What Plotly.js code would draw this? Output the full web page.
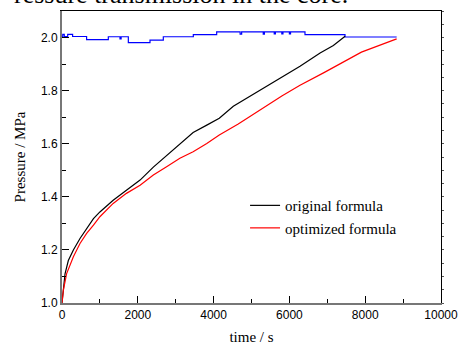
<!DOCTYPE html>
<html>
<head>
<meta charset="utf-8">
<script src="https://cdn.plot.ly/plotly-3.0.1.min.js"></script>
<style>html,body{margin:0;padding:0;background:#fff;}#chart{width:458px;height:348px;}</style>
</head>
<body>
<div id="chart"></div>
<script>
// original formula (black)
const origTime = [0, 35, 80, 167, 300, 475, 650, 830, 1000, 1350, 1700, 2060, 2410, 2760, 3110, 3460, 3820, 4150, 4520, 5400, 6280, 6810, 7160, 7470];
const origPressure = [1.0, 1.06, 1.11, 1.16, 1.2, 1.243, 1.28, 1.318, 1.343, 1.387, 1.425, 1.463, 1.512, 1.556, 1.6, 1.642, 1.67, 1.696, 1.741, 1.816, 1.892, 1.942, 1.970, 2.005];
// optimized formula (red)
const optTime = [0, 35, 120, 300, 475, 650, 830, 1000, 1350, 1700, 2060, 2410, 2760, 3110, 3460, 3820, 4150, 4650, 5800, 6280, 6900, 7900, 8830];
const optPressure = [1.0, 1.048, 1.11, 1.174, 1.224, 1.262, 1.293, 1.325, 1.375, 1.413, 1.444, 1.482, 1.513, 1.545, 1.57, 1.601, 1.633, 1.674, 1.78, 1.82, 1.867, 1.945, 1.995];
// boundary pressure (blue)
const bndTime = [0, 20, 60, 150, 280, 649, 1222, 1530, 1560, 1750, 2322, 2673, 3465, 4081, 4700, 4740, 5310, 5340, 5600, 5630, 5800, 5830, 6000, 6030, 6411, 7467, 8830];
const bndPressure = [2.003, 2.012, 2.004, 2.012, 2.004, 1.992, 2.003, 1.995, 2.003, 1.981, 1.99, 2.003, 2.011, 2.021, 2.013, 2.021, 2.013, 2.021, 2.014, 2.021, 2.014, 2.021, 2.014, 2.021, 2.011, 2.002, 2.002];

const xTickVals = [0, 2000, 4000, 6000, 8000, 10000];
const yTickVals = [1.0, 1.2, 1.4, 1.6, 1.8, 2.0];

const traces = [
  {x: bndTime, y: bndPressure, mode: 'lines', line: {color: '#0000ff', width: 1.2, shape: 'hv'}, showlegend: false, hoverinfo: 'skip'},
  {x: origTime, y: origPressure, mode: 'lines', name: 'original formula', line: {color: '#000000', width: 1.2}},
  {x: optTime, y: optPressure, mode: 'lines', name: 'optimized formula', line: {color: '#ff0000', width: 1.2}}
];

const tickFont = {family: 'Liberation Sans, Arial, sans-serif', size: 12, color: '#000'};
const titleFont = {family: 'Liberation Serif, Times New Roman, serif', size: 15, color: '#000'};

const layout = {
  width: 458, height: 348,
  margin: {l: 62, r: 17, t: 11, b: 45},
  paper_bgcolor: '#fff', plot_bgcolor: '#fff',
  showlegend: true,
  legend: {x: 0.483, y: 0.39, xanchor: 'left', yanchor: 'top', bgcolor: 'rgba(0,0,0,0)',
           font: {family: 'Liberation Serif, Times New Roman, serif', size: 15, color: '#000'},
           tracegroupgap: 0, itemwidth: 30},
  xaxis: {range: [0, 10000], tickvals: xTickVals, ticktext: xTickVals.map(String),
          ticks: 'inside', ticklen: 7, tickwidth: 1, tickcolor: '#000', ticklabeloverflow: 'allow',
          minor: {dtick: 1000, tick0: 0, ticks: 'inside', ticklen: 4, tickcolor: '#000', showgrid: false},
          showline: true, linecolor: '#777', linewidth: 2, showgrid: false, zeroline: false,
          tickfont: tickFont, title: {text: 'time / s', font: titleFont, standoff: 10}},
  yaxis: {range: [1.0, 2.1], tickvals: yTickVals, ticktext: yTickVals.map(v => v.toFixed(1)),
          ticks: 'inside', ticklen: 7, tickwidth: 1, tickcolor: '#000', ticklabeloverflow: 'allow',
          minor: {dtick: 0.1, tick0: 1.0, ticks: 'inside', ticklen: 4, tickcolor: '#000', showgrid: false},
          showline: true, linecolor: '#777', linewidth: 2, showgrid: false, zeroline: false,
          tickfont: tickFont, title: {text: 'Pressure / MPa', font: titleFont, standoff: 12}},
  xaxis2: {overlaying: 'x', side: 'top', range: [0, 10000], showline: true, linecolor: '#000', linewidth: 1,
           ticks: '', showticklabels: false, showgrid: false, zeroline: false},
  yaxis2: {overlaying: 'y', side: 'right', range: [1.0, 2.1], showline: true, linecolor: '#000', linewidth: 1,
           ticks: 'outside', ticklen: 2, dtick: 0.05, tick0: 1.0, tickcolor: '#555',
           showticklabels: false, showgrid: false, zeroline: false},
  annotations: [{xref: 'paper', yref: 'paper', x: -0.132, y: 1.0, xanchor: 'left', yanchor: 'bottom',
                 text: 'ressure transmission in the core.', showarrow: false,
                 font: {family: 'Liberation Serif, Times New Roman, serif', size: 26, color: '#000'}}]
};

traces.push({x: [0], y: [1.0], xaxis: 'x2', yaxis: 'y2', mode: 'markers', marker: {opacity: 0}, showlegend: false, hoverinfo: 'skip'});

Plotly.newPlot('chart', traces, layout, {displayModeBar: false, staticPlot: true});
</script>
</body>
</html>
